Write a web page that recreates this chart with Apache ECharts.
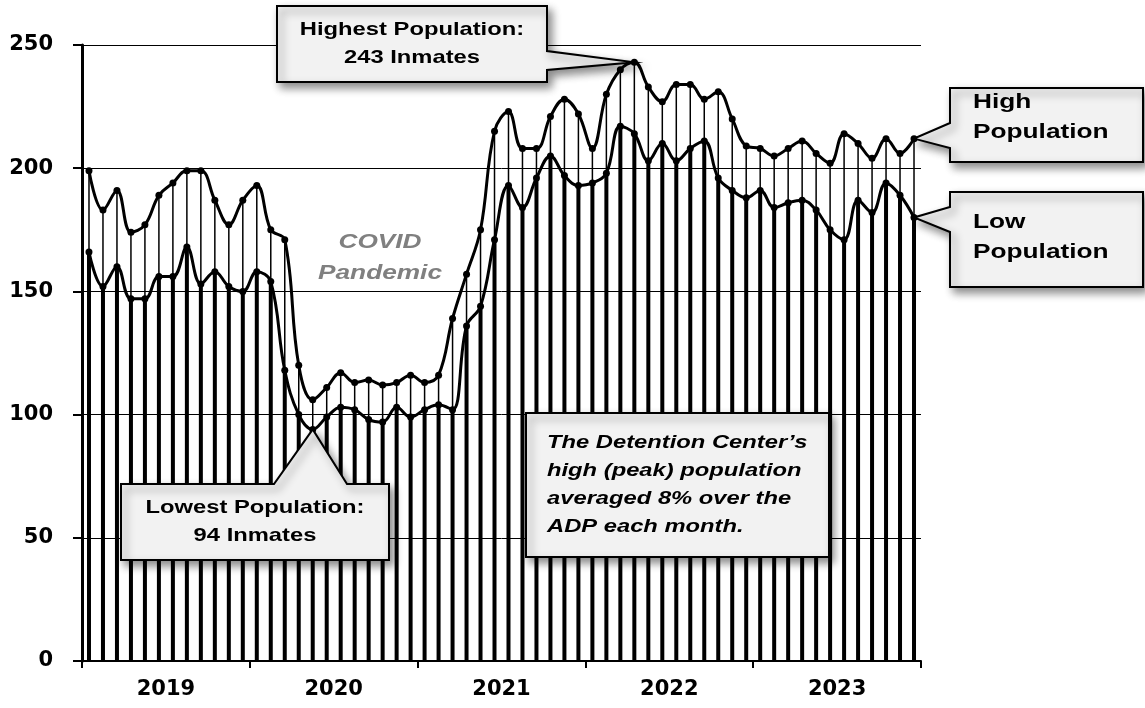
<!DOCTYPE html>
<html>
<head>
<meta charset="utf-8">
<script src="https://cdn.jsdelivr.net/npm/echarts@6/dist/echarts.min.js"></script>
<style>
  html, body { margin: 0; padding: 0; background: #fff; }
  #chart { width: 1145px; height: 708px; }
</style>
</head>
<body>
<div id="chart"></div>
<script>
// month categories, 2019-2023
var years = ["2019", "2020", "2021", "2022", "2023"];
var months = [];
for (var y = 0; y < years.length; y++) {
  for (var m = 1; m <= 12; m++) {
    months.push(years[y] + "-" + (m < 10 ? "0" + m : m));
  }
}

// monthly high (peak) population
var highPop = [
  199, 183, 191, 174, 177, 189, 194, 199, 199, 187, 177, 187,
  193, 175, 171, 120, 106, 111, 117, 113, 114, 112, 113, 116,
  113, 116, 139, 157, 175, 215, 223, 208, 208, 221, 228, 222,
  208, 230, 240, 243, 233, 227, 234, 234, 228, 231, 220, 209,
  208, 205, 208, 211, 206, 202, 214, 210, 204, 212, 206, 212
];

// monthly low population
var lowPop = [
  166, 152, 160, 147, 147, 156, 156, 168, 153, 158, 152, 150,
  158, 154, 118, 100, 94, 99, 103, 102, 98, 97, 103, 99,
  102, 104, 102, 136, 144, 171, 193, 184, 196, 205, 197, 193,
  194, 198, 217, 214, 203, 210, 203, 208, 211, 196, 191, 188,
  191, 184, 186, 187, 183, 175, 171, 187, 182, 194, 189, 180
];

var yTicks = [0, 50, 100, 150, 200, 250];

var rangeData = [];
for (var i = 0; i < months.length; i++) {
  rangeData.push([i, lowPop[i], highPop[i]]);
}

var axisFont = "DejaVu Sans";
var boxFont = "Liberation Sans, Arial, sans-serif";
var stretch = 1.25;

var chart = echarts.init(document.getElementById("chart"));

var option = {
  animation: false,
  backgroundColor: "#fff",
  grid: { left: 82, right: 224, top: 45, bottom: 47 },
  xAxis: [
    {
      type: "category",
      data: months,
      boundaryGap: true,
      axisLine: { show: true, lineStyle: { color: "#000", width: 2 } },
      axisTick: { show: false },
      axisLabel: { show: false },
      splitLine: { show: false }
    },
    {
      type: "category",
      data: years,
      position: "bottom",
      boundaryGap: true,
      axisLine: { show: false },
      axisTick: { show: true, length: 7, lineStyle: { color: "#000", width: 2 } },
      axisLabel: {
        color: "#000", fontFamily: axisFont, fontWeight: "bold", fontSize: 21, margin: 18
      },
      splitLine: { show: false }
    }
  ],
  yAxis: {
    type: "value",
    min: yTicks[0],
    max: yTicks[yTicks.length - 1],
    interval: 50,
    axisLine: { show: true, lineStyle: { color: "#000", width: 3 } },
    axisTick: { show: true, length: 9, lineStyle: { color: "#000", width: 2 } },
    axisLabel: {
      color: "#000", fontFamily: axisFont, fontWeight: "bold", fontSize: 21, margin: 29
    },
    splitLine: { show: true, lineStyle: { color: "#000", width: 1 } }
  },
  series: [
    {
      // thick columns from zero up to the low population
      name: "Low bars",
      type: "bar",
      data: lowPop,
      barWidth: 4,
      itemStyle: { color: "#000" },
      z: 2
    },
    {
      // thin high-low lines
      name: "Range",
      type: "custom",
      data: rangeData,
      encode: { x: 0, y: [1, 2] },
      renderItem: function (params, api) {
        var p0 = api.coord([api.value(0), api.value(1)]);
        var p1 = api.coord([api.value(0), api.value(2)]);
        return {
          type: "line",
          shape: { x1: p0[0], y1: p0[1], x2: p1[0], y2: p1[1] },
          style: { stroke: "#000", lineWidth: 1.5 }
        };
      },
      z: 3
    },
    {
      name: "High Population",
      type: "line",
      data: highPop,
      smooth: 0.4,
      symbol: "circle",
      symbolSize: 7,
      lineStyle: { color: "#000", width: 3 },
      itemStyle: { color: "#000" },
      z: 4
    },
    {
      name: "Low Population",
      type: "line",
      data: lowPop,
      smooth: 0.4,
      symbol: "circle",
      symbolSize: 7,
      lineStyle: { color: "#000", width: 3 },
      itemStyle: { color: "#000" },
      z: 4
    }
  ]
};

chart.setOption(option);

/* -- callout boxes, pointers aimed at the data points -- */
function px(idx, val) {
  return chart.convertToPixel({ xAxisIndex: 0, yAxisIndex: 0 }, [idx, val]);
}

function calloutPoints(b, side, a1, a2, tip) {
  var x0 = b.x, y0 = b.y, x1 = b.x + b.w, y1 = b.y + b.h;
  if (side === "right") {
    return [[x0, y0], [x1, y0], [x1, a1], tip, [x1, a2], [x1, y1], [x0, y1]];
  }
  if (side === "left") {
    return [[x0, y0], [x1, y0], [x1, y1], [x0, y1], [x0, a2], tip, [x0, a1]];
  }
  if (side === "top") {
    return [[x0, y0], [a1, y0], tip, [a2, y0], [x1, y0], [x1, y1], [x0, y1]];
  }
  return [[x0, y0], [x1, y0], [x1, y1], [x0, y1]];
}

function boxShape(points) {
  return {
    type: "polygon",
    z: 100,
    shape: { points: points },
    style: {
      fill: "#f2f2f2",
      stroke: "#000",
      lineWidth: 2,
      shadowBlur: 8,
      shadowOffsetX: 4,
      shadowOffsetY: 5,
      shadowColor: "rgba(0,0,0,0.45)"
    }
  };
}

function boxText(txt, x, y, align, size, italic, color, lh) {
  return {
    type: "text",
    z: 101,
    x: x,
    y: y,
    scaleX: stretch,
    style: {
      text: txt,
      x: 0,
      y: 0,
      fill: color || "#000",
      font: (italic ? "italic " : "") + "bold " + size + "px " + boxFont,
      lineHeight: lh || 28,
      textAlign: align,
      textVerticalAlign: "middle"
    }
  };
}

var peakIdx = highPop.indexOf(Math.max.apply(null, highPop));
var lowIdx = lowPop.indexOf(Math.min.apply(null, lowPop));
var last = months.length - 1;

var graphics = [
  boxShape(calloutPoints({ x: 277, y: 6, w: 270, h: 76 }, "right", 51, 70, px(peakIdx, highPop[peakIdx]))),
  boxText("Highest Population:\n" + highPop[peakIdx] + " Inmates", 412, 44, "center", 19),

  boxShape(calloutPoints({ x: 950, y: 88, w: 193, h: 74 }, "left", 123, 148, px(last, highPop[last]))),
  boxText("High\nPopulation", 973, 117, "left", 21, false, "#000", 30),

  boxShape(calloutPoints({ x: 950, y: 192, w: 193, h: 95 }, "left", 207, 232, px(last, lowPop[last]))),
  boxText("Low\nPopulation", 973, 237, "left", 21, false, "#000", 30),

  boxShape(calloutPoints({ x: 121, y: 484, w: 268, h: 76 }, "top", 274, 347, px(lowIdx, lowPop[lowIdx]))),
  boxText("Lowest Population:\n" + lowPop[lowIdx] + " Inmates", 255, 522, "center", 19),

  boxShape(calloutPoints({ x: 526, y: 413, w: 303, h: 144 }, "none")),
  boxText("The Detention Center\u2019s\nhigh (peak) population\naveraged 8% over the\nADP each month.", 547, 485, "left", 19, true),

  boxText("COVID\nPandemic", 380, 258, "center", 21, true, "#808080", 31)
];

chart.setOption({ graphic: graphics });
</script>
</body>
</html>
